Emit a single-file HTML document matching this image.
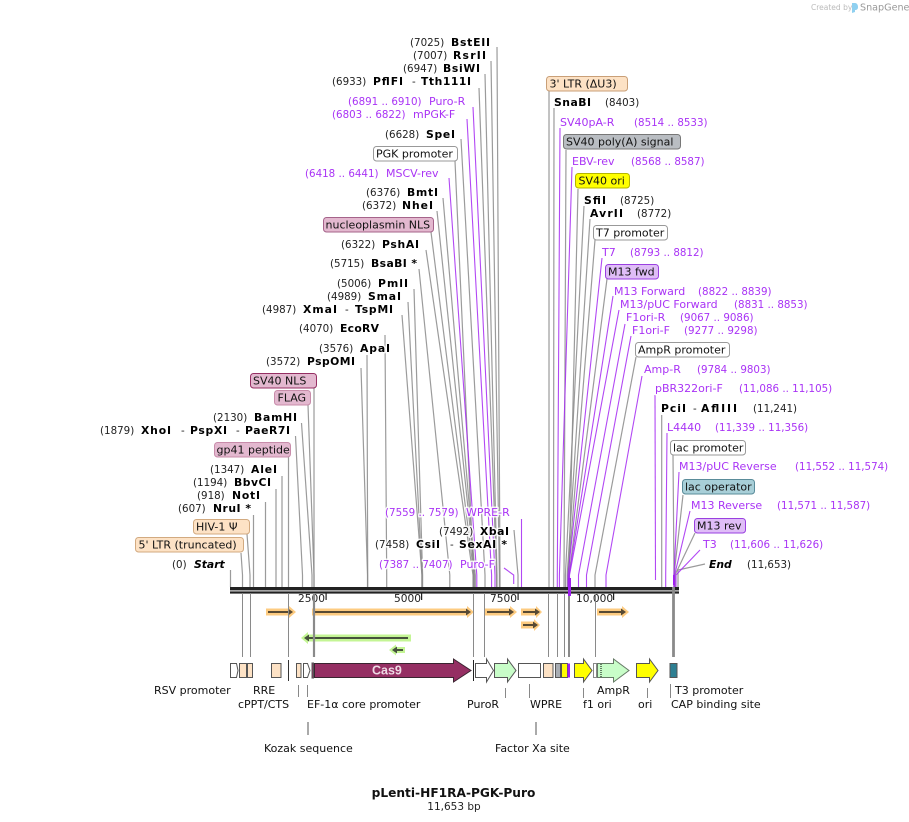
<!DOCTYPE html>
<html><head><meta charset="utf-8"><style>
html,body{margin:0;padding:0;background:#fff}
svg{display:block}
text{font-family:"DejaVu Sans",sans-serif;font-size:11px;fill:#111;}
.h{stroke:#fff;stroke-width:3;stroke-opacity:.85;paint-order:stroke;stroke-linejoin:round}
.n{font-size:10.3px;fill:#222}
.b{font-weight:bold;font-size:10.8px;fill:#000}
.p{fill:#a933f5;font-size:11px}
.q{fill:#a933f5;font-size:10.3px}
.g line,.g polyline{stroke:#8a8a8a;stroke-width:1.2;stroke-opacity:.85;fill:none}
.v line,.v polyline{stroke:#a528f2;stroke-width:1.1;stroke-opacity:.85;fill:none}
.l{font-size:11px;fill:#111}
.box rect{stroke-width:1}
</style></head><body>
<svg width="909" height="822" viewBox="0 0 909 822" xmlns="http://www.w3.org/2000/svg">
<!-- watermark -->
<text x="811" y="10" style="font-size:7.5px;fill:#bbb">Created by</text>
<path d="M852 3h3c2 0 3 2 3 4s-1 3-3 3v2l-3 1z" fill="#8fd0f0"/>
<text x="860" y="10.5" style="font-size:9.6px;fill:#999">SnapGene</text>

<!-- gray connectors -->
<g class="g">
<polyline points="497,47 500,575 500,587"/>
<polyline points="491,61 499.4,575 499.4,587"/>
<polyline points="485,74 497,575 497,587"/>
<polyline points="479,88 496.6,575 496.6,587"/>
<polyline points="461,139 485,575 485,587"/>
<polyline points="455,161 473.5,575 473.5,587"/>
<polyline points="443,198 475.2,575 475.2,587"/>
<polyline points="437,211 475,575 475,587"/>
<polyline points="431,232 474,575 474,587"/>
<polyline points="426,250 473,575 473,587"/>
<polyline points="419,269 449.8,575 449.8,587"/>
<polyline points="414,289 422.6,575 422.6,587"/>
<polyline points="408,302 422,575 422,587"/>
<polyline points="402,315 421.9,575 421.9,587"/>
<polyline points="385,335 386.7,575 386.7,587"/>
<polyline points="367,355 367.7,575 367.7,587"/>
<polyline points="361,368 367.5,575 367.5,587"/>
<polyline points="314,388 314,587"/>
<polyline points="308,405 314,575 314,587"/>
<polyline points="301.5,423 312,575 312,587"/>
<polyline points="295.5,436 302.5,575 302.5,587"/>
<line x1="288.5" y1="457" x2="288.5" y2="587"/>
<line x1="282" y1="476" x2="282" y2="587"/>
<line x1="276" y1="489" x2="276" y2="587"/>
<line x1="265.5" y1="502" x2="265.5" y2="587"/>
<line x1="253.5" y1="515" x2="253.5" y2="587"/>
<polyline points="247,534 250,575 250,587"/>
<polyline points="241,553 242.5,575 242.5,587"/>
<line x1="230.5" y1="570" x2="230.5" y2="587"/>
<polyline points="514,530 518,575 518,587"/>
<line x1="549" y1="91" x2="549" y2="587"/>
<polyline points="554,108 553.5,575 553.5,587"/>
<polyline points="566,150 564,575 564,587"/>
<polyline points="578,189 569,575 569,587"/>
<polyline points="584,206 565.4,575 565.4,587"/>
<polyline points="590,219 567.2,575 567.2,587"/>
<polyline points="595,240 568,575 568,587"/>
<polyline points="607,279 569,575 569,587"/>
<polyline points="636,357 595,575 595,587"/>
<line x1="661.7" y1="415" x2="661.7" y2="587"/>
<polyline points="673,455 674,575 674,587"/>
<polyline points="683,495 674,575 674,587"/>
<polyline points="695,533 675,575 675,587"/>
<polyline points="705,564 678,570 678,587"/>
</g>
<!-- purple connectors -->
<g class="v">
<polyline points="473,107 495,575 495,587"/>
<polyline points="467,119 491.6,575 491.6,587"/>
<polyline points="449,178 476.8,575 476.8,587"/>
<polyline points="504,568 513.7,575 513.7,584"/>
<line x1="521.5" y1="519" x2="521.5" y2="587"/>
<polyline points="560,128 557.3,575 557.3,587"/>
<polyline points="572,167 559.4,575 559.4,587"/>
<polyline points="602,258 568,575 568,587"/>
<polyline points="613,296 569.1,575 569.1,587"/>
<polyline points="619,310 569.5,575 569.5,587"/>
<polyline points="625,324 578.5,575 578.5,587"/>
<polyline points="631,336 586.5,575 586.5,587"/>
<polyline points="642,376 606,575 606,587"/>
<polyline points="655,395 655.5,580"/>
<polyline points="667,433 665.7,575 665.7,587"/>
<polyline points="679,472 673.9,575 673.9,587"/>
<polyline points="690,511 674.6,575 674.6,587"/>
<polyline points="700,550 676,575 676,587"/>
</g>

<!-- ruler -->
<rect x="230" y="587" width="449" height="3.4" fill="#222"/>
<rect x="230" y="591.4" width="449" height="2.2" fill="#222"/>
<g fill="#222">
<rect x="325.500" y="593" width="1.200" height="7"/>
<rect x="421" y="593" width="1.200" height="7"/>
<rect x="517.500" y="593" width="1.200" height="7"/>
<rect x="613" y="593" width="1.200" height="7"/>
</g>
<text x="298" y="602" style="font-size:10.6px;fill:#222">2500</text>
<text x="394" y="602" style="font-size:10.6px;fill:#222">5000</text>
<text x="490" y="602" style="font-size:10.6px;fill:#222">7500</text>
<text x="576" y="602" style="font-size:10.6px;fill:#222">10,000</text>

<!-- ORF arrows -->
<g fill="#fdcb80">
<path d="M266 608.500h23v-2.500l7 6-7 6v-2.500h-23z"/>
<path d="M312 608.500h155v-2.500l7 6-7 6v-2.500h-155z"/>
<path d="M485 608.500h25v-2.500l7 6-7 6v-2.500h-25z"/>
<path d="M521 608.500h15v-2.500l6 6-6 6v-2.500h-15z"/>
<path d="M521 621.500h13v-2.500l6 6-6 6v-2.500h-13z"/>
<path d="M597 608.500h25v-2.500l7 6-7 6v-2.500h-25z"/>
</g>
<g stroke="#574a34" stroke-width="2" fill="#574a34">
<line x1="268" y1="612" x2="290" y2="612"/><path d="M288 608.500l5 3.500-5 3.500z" stroke="none"/>
<line x1="314" y1="612" x2="468" y2="612"/><path d="M466 608.500l5 3.500-5 3.500z" stroke="none"/>
<line x1="487" y1="612" x2="511" y2="612"/><path d="M509 608.500l5 3.500-5 3.500z" stroke="none"/>
<line x1="523" y1="612" x2="537" y2="612"/><path d="M535 608.500l5 3.500-5 3.500z" stroke="none"/>
<line x1="523" y1="625" x2="535" y2="625"/><path d="M533 621.500l5 3.500-5 3.500z" stroke="none"/>
<line x1="599" y1="612" x2="623" y2="612"/><path d="M621 608.500l5 3.500-5 3.500z" stroke="none"/>
</g>
<g fill="#c4f595">
<path d="M411 634.500h-103v-2.500l-7 6 7 6v-2.500h103z"/>
<path d="M405 647h-9v-2.500l-7 5.500 7 5.500v-2.500h9z"/>
</g>
<g stroke="#46523c" stroke-width="2" fill="#46523c">
<line x1="408" y1="638" x2="307" y2="638"/><path d="M309 634.500l-5 3.500 5 3.500z" stroke="none"/>
<line x1="403" y1="650" x2="395" y2="650"/><path d="M397 646.500l-5 3.500 5 3.500z" stroke="none"/>
</g>

<!-- long feature drop lines -->
<g stroke="#8a8a8a" fill="none">
<line x1="242.500" y1="593" x2="242.500" y2="657" stroke-width="1"/>
<line x1="250.500" y1="593" x2="250.500" y2="657" stroke-width="1"/>
<line x1="288.500" y1="593" x2="288.500" y2="657" stroke-width="1"/>
<line x1="314" y1="593" x2="314" y2="657" stroke-width="2.200"/>
<line x1="473.500" y1="593" x2="473.500" y2="657" stroke-width="1"/>
<line x1="484.500" y1="593" x2="484.500" y2="657" stroke-width="1"/>
<line x1="548.500" y1="593" x2="548.500" y2="657" stroke-width="1"/>
<line x1="557.500" y1="593" x2="557.500" y2="657" stroke-width="1"/>
<line x1="564.500" y1="593" x2="564.500" y2="657" stroke-width="1"/>
<line x1="569" y1="593" x2="569" y2="657" stroke-width="2"/>
<line x1="595.500" y1="593" x2="595.500" y2="657" stroke-width="1"/>
<line x1="673.500" y1="587" x2="673.500" y2="657" stroke-width="2.800"/>
</g>
<rect x="568" y="578" width="3" height="18" fill="#a020f0"/>
<rect x="673" y="575" width="2" height="10" fill="#a020f0"/>

<!-- features -->
<g stroke="#555" stroke-width="1">
<path d="M230.500 663.500h6l1.500 7-1.500 7h-6z" fill="#fff"/>
<rect x="239.500" y="663.500" width="7" height="14" fill="#fde2c5"/>
<rect x="247.500" y="663.500" width="5" height="14" fill="#fde2c5"/>
<rect x="271.500" y="663.500" width="9.500" height="14" fill="#fde2c5"/>
<path d="M288.500 660v21" stroke="#333"/>
<rect x="296.500" y="663.500" width="4.500" height="14" fill="#fde2c5"/>
<path d="M303.500 663.500h4l2.500 7-2.500 7h-4z" fill="#fff"/>
<rect x="312" y="663" width="1.500" height="15" fill="#952f63"/>
<path d="M314.500 663.500h139v-4.500l17.500 11.500-17.500 11.500v-4.500h-139z" fill="#952f63" stroke="#3a2430"/>
<path d="M473.500 660v21" stroke="#222"/>
<path d="M475.500 663.500h11v-4.500l7 11.500-7 11.500v-4.500h-11z" fill="#fff"/>
<path d="M494.500 663.500h13v-4.500l8.500 11.500-8.500 11.500v-4.500h-13z" fill="#c8fdc8"/>
<rect x="518.500" y="663.500" width="22" height="14" fill="#fff"/>
<rect x="543.500" y="663.500" width="9.500" height="14" fill="#fde2c5"/>
<rect x="555.500" y="663.500" width="5" height="14" fill="#a8adb3"/>
<rect x="561.500" y="663.500" width="6" height="14" fill="#ffff00"/>
<rect x="567.500" y="663.500" width="2.500" height="14" fill="#a020f0" stroke="none"/>
<path d="M574.500 663.500h9v-4.500l8.500 11.500-8.500 11.500v-4.500h-9z" fill="#ffff00"/>
<rect x="593.500" y="663.500" width="3" height="14" fill="#fff" stroke="#888"/>
<path d="M597.500 663.500h16v-4.500l15.500 11.500-15.500 11.500v-4.500h-16z" fill="#c8fdc8" stroke="#667a66"/>
<path d="M636.500 663.500h13v-4.500l8.500 11.500-8.500 11.500v-4.500h-13z" fill="#ffff00"/>
<rect x="670" y="663.500" width="7" height="14" fill="#2e7f92"/>
</g>
<line x1="601" y1="664" x2="601" y2="677" stroke="#000" stroke-width="1" stroke-dasharray="1 1"/>
<text x="372" y="674.500" style="font-family:'Liberation Sans',sans-serif;font-size:12.500px;font-weight:bold;fill:#eedbe5">Cas9</text>

<!-- bottom feature labels -->
<g stroke="#888" stroke-width="1">
<line x1="298.500" y1="685" x2="298.500" y2="697"/>
<line x1="307.500" y1="685" x2="307.500" y2="697"/>
<line x1="505.500" y1="688" x2="505.500" y2="698"/>
<line x1="529.500" y1="684" x2="529.500" y2="698"/>
<line x1="583.500" y1="688" x2="583.500" y2="698"/>
<line x1="647.500" y1="688" x2="647.500" y2="698"/>
<line x1="670.500" y1="684" x2="670.500" y2="698"/>
<line x1="308" y1="722" x2="308" y2="735" stroke="#555"/>
<line x1="536" y1="722" x2="536" y2="735" stroke="#555"/>
</g>
<g class="l">
<text x="154" y="694" class="l">RSV promoter</text>
<text x="253" y="694" class="l">RRE</text>
<text x="238" y="708" class="l">cPPT/CTS</text>
<text x="307" y="708" class="l">EF-1α core promoter</text>
<text x="467" y="708" class="l">PuroR</text>
<text x="530" y="708" class="l">WPRE</text>
<text x="583" y="708" class="l">f1 ori</text>
<text x="597" y="694" class="l">AmpR</text>
<text x="638" y="708" class="l">ori</text>
<text x="675" y="694" class="l">T3 promoter</text>
<text x="671" y="708" class="l">CAP binding site</text>
<text x="264" y="752" class="l">Kozak sequence</text>
<text x="495" y="752" class="l">Factor Xa site</text>
</g>
<text x="453.500" y="797" text-anchor="middle" style="font-weight:bold;font-size:12.200px;fill:#111">pLenti-HF1RA-PGK-Puro</text>
<text x="454" y="810" text-anchor="middle" style="font-size:10.500px;fill:#222">11,653 bp</text>

<!-- boxed labels -->
<g class="box">
<rect x="546.500" y="76.500" width="81" height="14.500" rx="3" fill="#fde2c5" stroke="#c99f77"/><text x="549.500" y="87.500">3' LTR (ΔU3)</text>
<rect x="373.500" y="146.500" width="84" height="14.500" rx="3" fill="#fff" stroke="#999"/><text x="376" y="157.500">PGK promoter</text>
<rect x="323.500" y="217.500" width="110" height="14.500" rx="3" fill="#e3b8cf" stroke="#a5638a"/><text x="325.500" y="228.500">nucleoplasmin NLS</text>
<rect x="250.500" y="373.500" width="66" height="14.500" rx="3" fill="#e3b8cf" stroke="#952f63"/><text x="253" y="384.500">SV40 NLS</text>
<rect x="274.500" y="390.500" width="36" height="14.500" rx="3" fill="#e3b8cf" stroke="#c88caa"/><text x="277.500" y="401.500">FLAG</text>
<rect x="214.500" y="442.500" width="76" height="14.500" rx="3" fill="#e3b8cf" stroke="#c88caa"/><text x="216.500" y="453.500">gp41 peptide</text>
<rect x="193.500" y="519.500" width="56" height="14.500" rx="3" fill="#fde2c5" stroke="#d2aa80"/><text x="196" y="530.500">HIV-1 Ψ</text>
<rect x="135.500" y="537.500" width="108" height="14.500" rx="3" fill="#fde2c5" stroke="#d2aa80"/><text x="138.500" y="548.500">5' LTR (truncated)</text>
<rect x="563.500" y="134.500" width="117" height="14.500" rx="3" fill="#b9bdc2" stroke="#777"/><text x="566" y="145.500">SV40 poly(A) signal</text>
<rect x="575.500" y="173.500" width="54" height="14.500" rx="3" fill="#ffff00" stroke="#b5b500"/><text x="578.500" y="184.500">SV40 ori</text>
<rect x="593.500" y="225.500" width="74" height="14.500" rx="3" fill="#fff" stroke="#999"/><text x="596" y="236.500">T7 promoter</text>
<rect x="605.500" y="264.500" width="53" height="14.500" rx="3" fill="#dfbdf7" stroke="#9a40e0"/><text x="608" y="275.500">M13 fwd</text>
<rect x="635.500" y="342.500" width="94" height="14.500" rx="3" fill="#fff" stroke="#999"/><text x="638" y="353.500">AmpR promoter</text>
<rect x="670.500" y="440.500" width="75" height="14.500" rx="3" fill="#fff" stroke="#999"/><text x="673" y="451.500">lac promoter</text>
<rect x="682.500" y="479.500" width="72" height="14.500" rx="3" fill="#a8cfd8" stroke="#5a8c9a"/><text x="685" y="490.500">lac operator</text>
<rect x="694.500" y="518.500" width="51" height="14.500" rx="3" fill="#dfbdf7" stroke="#9a40e0"/><text x="697" y="529.500">M13 rev</text>
</g>

<!-- left / centre site labels -->
<g>
<text x="410" y="46" class="n h">(7025)</text><text x="451" y="46" class="b h" textLength="39">BstEII</text>
<text x="413" y="59" class="n h">(7007)</text><text x="453" y="59" class="b h" textLength="33">RsrII</text>
<text x="403" y="72" class="n h">(6947)</text><text x="443" y="72" class="b h" textLength="37">BsiWI</text>
<text x="332" y="85" class="n h">(6933)</text><text x="373" y="85" class="b h" textLength="30">PflFI</text><text x="412" y="85" class="n h">-</text><text x="421" y="85" class="b h" textLength="50">Tth111I</text>
<text x="348" y="105" class="q h">(6891 .. 6910)</text><text x="429" y="105" class="p h">Puro-R</text>
<text x="332" y="118" class="q h">(6803 .. 6822)</text><text x="413" y="118" class="p h">mPGK-F</text>
<text x="385" y="138" class="n h">(6628)</text><text x="426" y="138" class="b h" textLength="29">SpeI</text>
<text x="305" y="177" class="q h">(6418 .. 6441)</text><text x="386" y="177" class="p h">MSCV-rev</text>
<text x="366" y="196" class="n h">(6376)</text><text x="407" y="196" class="b h" textLength="31">BmtI</text>
<text x="362" y="209" class="n h">(6372)</text><text x="402" y="209" class="b h" textLength="31">NheI</text>
<text x="341" y="248" class="n h">(6322)</text><text x="382" y="248" class="b h" textLength="37">PshAI</text>
<text x="330" y="267" class="n h">(5715)</text><text x="371" y="267" class="b h" textLength="46">BsaBI *</text>
<text x="337" y="287" class="n h">(5006)</text><text x="378" y="287" class="b h" textLength="30">PmlI</text>
<text x="327" y="300" class="n h">(4989)</text><text x="368" y="300" class="b h" textLength="33">SmaI</text>
<text x="262" y="313" class="n h">(4987)</text><text x="303" y="313" class="b h" textLength="34">XmaI</text><text x="345" y="313" class="n h">-</text><text x="355" y="313" class="b h" textLength="38">TspMI</text>
<text x="299" y="332" class="n h">(4070)</text><text x="340" y="332" class="b h" textLength="39">EcoRV</text>
<text x="319" y="352" class="n h">(3576)</text><text x="360" y="352" class="b h" textLength="30">ApaI</text>
<text x="266" y="365" class="n h">(3572)</text><text x="307" y="365" class="b h" textLength="48">PspOMI</text>
<text x="213" y="421" class="n h">(2130)</text><text x="254" y="421" class="b h" textLength="43">BamHI</text>
<text x="100" y="434" class="n h">(1879)</text><text x="141" y="434" class="b h" textLength="30">XhoI</text><text x="181" y="434" class="n h">-</text><text x="190" y="434" class="b h" textLength="37">PspXI</text><text x="236" y="434" class="n h">-</text><text x="245" y="434" class="b h" textLength="45">PaeR7I</text>
<text x="210" y="473" class="n h">(1347)</text><text x="251" y="473" class="b h" textLength="26">AleI</text>
<text x="193" y="486" class="n h">(1194)</text><text x="234" y="486" class="b h" textLength="37">BbvCI</text>
<text x="197" y="499" class="n h">(918)</text><text x="232" y="499" class="b h" textLength="28">NotI</text>
<text x="178" y="512" class="n h">(607)</text><text x="213" y="512" class="b h" textLength="38">NruI *</text>
<text x="172" y="568" class="n h">(0)</text><text x="194" y="568" class="b h" font-style="italic">Start</text>
<text x="385" y="516" class="q h">(7559 .. 7579)</text><text x="466" y="516" class="p h">WPRE-R</text>
<text x="439" y="535" class="n h">(7492)</text><text x="480" y="535" class="b h" textLength="29">XbaI</text>
<text x="375" y="548" class="n h">(7458)</text><text x="416" y="548" class="b h" textLength="24">CsiI</text><text x="450" y="548" class="n h">-</text><text x="459" y="548" class="b h" textLength="48">SexAI *</text>
<text x="379" y="568" class="q h">(7387 .. 7407)</text><text x="460" y="568" class="p h">Puro-F</text>
</g>
<!-- right site labels -->
<g>
<text x="554" y="106" class="b h" textLength="37">SnaBI</text><text x="605" y="106" class="n h">(8403)</text>
<text x="560" y="126" class="p h">SV40pA-R</text><text x="634" y="126" class="q h">(8514 .. 8533)</text>
<text x="572" y="165" class="p h">EBV-rev</text><text x="631" y="165" class="q h">(8568 .. 8587)</text>
<text x="584" y="204" class="b h" textLength="22">SfiI</text><text x="620" y="204" class="n h">(8725)</text>
<text x="590" y="217" class="b h" textLength="33">AvrII</text><text x="637" y="217" class="n h">(8772)</text>
<text x="602" y="256" class="p h">T7</text><text x="630" y="256" class="q h">(8793 .. 8812)</text>
<text x="614" y="295" class="p h">M13 Forward</text><text x="698" y="295" class="q h">(8822 .. 8839)</text>
<text x="620" y="308" class="p h">M13/pUC Forward</text><text x="734" y="308" class="q h">(8831 .. 8853)</text>
<text x="626" y="321" class="p h">F1ori-R</text><text x="680" y="321" class="q h">(9067 .. 9086)</text>
<text x="632" y="334" class="p h">F1ori-F</text><text x="684" y="334" class="q h">(9277 .. 9298)</text>
<text x="644" y="373" class="p h">Amp-R</text><text x="697" y="373" class="q h">(9784 .. 9803)</text>
<text x="655" y="392" class="p h">pBR322ori-F</text><text x="739" y="392" class="q h">(11,086 .. 11,105)</text>
<text x="661" y="412" class="b h" textLength="25">PciI</text><text x="693" y="412" class="n h">-</text><text x="701" y="412" class="b h" textLength="36">AflIII</text><text x="753" y="412" class="n h">(11,241)</text>
<text x="667" y="431" class="p h">L4440</text><text x="715" y="431" class="q h">(11,339 .. 11,356)</text>
<text x="679" y="470" class="p h">M13/pUC Reverse</text><text x="795" y="470" class="q h">(11,552 .. 11,574)</text>
<text x="691" y="509" class="p h">M13 Reverse</text><text x="777" y="509" class="q h">(11,571 .. 11,587)</text>
<text x="703" y="548" class="p h">T3</text><text x="730" y="548" class="q h">(11,606 .. 11,626)</text>
<text x="709" y="568" class="b h" font-style="italic">End</text><text x="747" y="568" class="n h">(11,653)</text>
</g>
</svg>
</body></html>
